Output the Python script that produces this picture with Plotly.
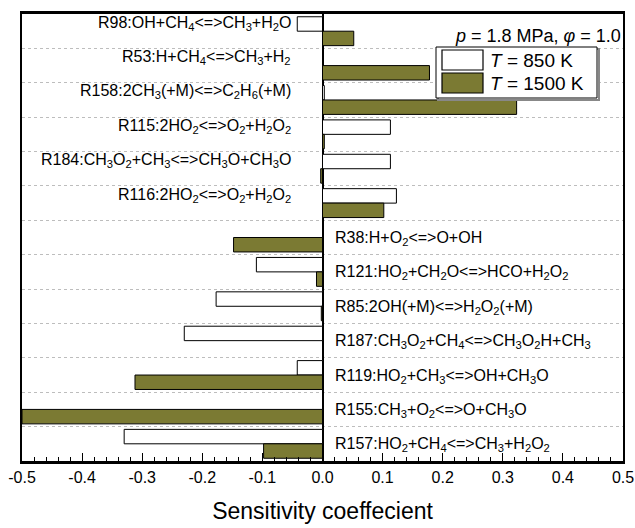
import plotly.graph_objects as go

# ---------------- data ----------------
reactions = ["R98", "R53", "R158", "R115", "R184", "R116", "R38",
             "R121", "R85", "R187", "R119", "R155", "R157"]
labels = [
    "R98:OH+CH<sub>4</sub><=>CH<sub>3</sub>+H<sub>2</sub>O",
    "R53:H+CH<sub>4</sub><=>CH<sub>3</sub>+H<sub>2</sub>",
    "R158:2CH<sub>3</sub>(+M)<=>C<sub>2</sub>H<sub>6</sub>(+M)",
    "R115:2HO<sub>2</sub><=>O<sub>2</sub>+H<sub>2</sub>O<sub>2</sub>",
    "R184:CH<sub>3</sub>O<sub>2</sub>+CH<sub>3</sub><=>CH<sub>3</sub>O+CH<sub>3</sub>O",
    "R116:2HO<sub>2</sub><=>O<sub>2</sub>+H<sub>2</sub>O<sub>2</sub>",
    "R38:H+O<sub>2</sub><=>O+OH",
    "R121:HO<sub>2</sub>+CH<sub>2</sub>O<=>HCO+H<sub>2</sub>O<sub>2</sub>",
    "R85:2OH(+M)<=>H<sub>2</sub>O<sub>2</sub>(+M)",
    "R187:CH<sub>3</sub>O<sub>2</sub>+CH<sub>4</sub><=>CH<sub>3</sub>O<sub>2</sub>H+CH<sub>3</sub>",
    "R119:HO<sub>2</sub>+CH<sub>3</sub><=>OH+CH<sub>3</sub>O",
    "R155:CH<sub>3</sub>+O<sub>2</sub><=>O+CH<sub>3</sub>O",
    "R157:HO<sub>2</sub>+CH<sub>4</sub><=>CH<sub>3</sub>+H<sub>2</sub>O<sub>2</sub>",
]
s_850 = [-0.042, 0.0, 0.003, 0.113, 0.113, 0.123, 0.0,
         -0.110, -0.177, -0.230, -0.042, 0.0, -0.330]
s_1500 = [0.052, 0.178, 0.323, 0.003, -0.003, 0.102, -0.148,
          -0.010, -0.002, 0.0, -0.312, -0.500, -0.098]
series_names = ["<i>T</i> = 850 K", "<i>T</i> = 1500 K"]
condition = "<i>p</i> = 1.8 MPa, <i>φ</i> = 1.0"
x_title = "Sensitivity coeffecient"
x_ticks = [-0.5, -0.4, -0.3, -0.2, -0.1, 0.0, 0.1, 0.2, 0.3, 0.4, 0.5]
x_ticktext = ["-0.5", "-0.4", "-0.3", "-0.2", "-0.1", "0.0",
              "0.1", "0.2", "0.3", "0.4", "0.5"]

# ---------------- style ----------------
FONT = "Liberation Sans, Arial, sans-serif"
OLIVE = "#7b7a33"
W, H = 635, 528
ML, MR, MT, MB = 22, 12, 14, 67

fig = go.Figure()
fig.add_trace(go.Bar(y=reactions, x=s_850, orientation="h", name=series_names[0],
                     marker=dict(color="white", line=dict(color="black", width=1))))
fig.add_trace(go.Bar(y=reactions, x=s_1500, orientation="h", name=series_names[1],
                     marker=dict(color=OLIVE, line=dict(color="black", width=1))))

# reaction labels on the side opposite to the bars
for r, lab, a, b in zip(reactions, labels, s_850, s_1500):
    pos = (a + b) > 0
    fig.add_annotation(x=0, y=r, xref="x", yref="y", text=lab, showarrow=False,
                       xanchor="right" if pos else "left",
                       xshift=-30 if pos else 10,
                       yshift=8 if pos else -1,
                       font=dict(family=FONT, size=16, color="black"))

# helpers to convert pixels to paper coords (layout only)
pw, ph = W - ML - MR, H - MT - MB
def px(x):
    return (x - ML) / pw
def py(y):
    return (H - MB - y) / ph

# condition text
fig.add_annotation(x=1, y=py(36), xref="paper", yref="paper", text=condition,
                   showarrow=False, xanchor="right", yanchor="middle", xshift=0,
                   font=dict(family=FONT, size=18, color="black"))

# custom legend
fig.add_shape(type="rect", xref="paper", yref="paper", x0=px(438), x1=px(599),
              y0=py(100), y1=py(49), line=dict(color="#888888", width=2),
              fillcolor="rgba(0,0,0,0)")
fig.add_shape(type="rect", xref="paper", yref="paper", x0=px(436), x1=px(597),
              y0=py(98), y1=py(47), line=dict(color="black", width=1),
              fillcolor="white")
swatch_fill = ["white", OLIVE]
rows_y = [(50, 70), (73, 93)]
for name, fill, (y0, y1) in zip(series_names, swatch_fill, rows_y):
    fig.add_shape(type="rect", xref="paper", yref="paper", x0=px(442), x1=px(483),
                  y0=py(y1), y1=py(y0), line=dict(color="black", width=1.2),
                  fillcolor=fill)
    fig.add_annotation(x=px(488), y=py((y0 + y1) / 2), xref="paper", yref="paper",
                       text=name, showarrow=False, xanchor="left", yanchor="middle",
                       font=dict(family=FONT, size=19, color="black"))

fig.update_layout(
    width=W, height=H,
    margin=dict(l=ML, r=MR, t=MT, b=MB, autoexpand=False),
    paper_bgcolor="white", plot_bgcolor="white",
    barmode="group", bargap=0.16, bargroupgap=0.0,
    showlegend=False,
    font=dict(family=FONT, color="black"),
    xaxis=dict(range=[-0.5, 0.5], tickvals=x_ticks, ticktext=x_ticktext,
               automargin=False,
               ticks="inside", ticklen=8, tickwidth=1.2, tickcolor="black",
               minor=dict(dtick=0.02, ticks="inside", ticklen=4, tickwidth=1,
                          tickcolor="black"),
               showline=True, linecolor="black", linewidth=2.5, mirror=True,
               showgrid=False, zeroline=True, zerolinecolor="black",
               zerolinewidth=2,
               tickfont=dict(family=FONT, size=16, color="black"),
               title=dict(text=x_title, standoff=18,
                          font=dict(family=FONT, size=23, color="black"))),
    yaxis=dict(type="category", autorange="reversed", showticklabels=False,
               automargin=False,
               ticks="", tickson="boundaries", showgrid=True,
               gridcolor="#bdbdbd", griddash="dot", gridwidth=1,
               showline=True, linecolor="black", linewidth=2, mirror=True,
               zeroline=False),
)

fig.write_html("out.html")
